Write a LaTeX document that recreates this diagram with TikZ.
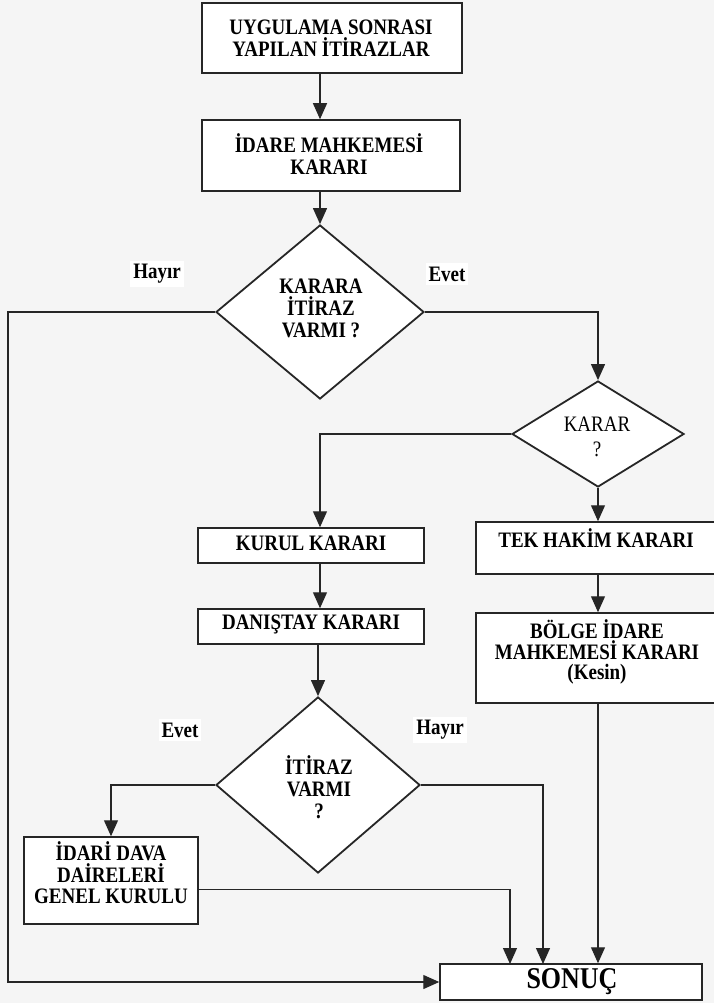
\documentclass[tikz,border=0pt]{standalone}
\usepackage{fontspec}
\setmainfont{Liberation Serif}
\usetikzlibrary{shapes.geometric,arrows.meta,calc}
\begin{document}
\begin{tikzpicture}[x=1pt,y=-1pt,
  box/.style={draw=black!85,line width=1.5pt,fill=white,inner sep=0pt},
  dia/.style={draw=black!85,line width=1.8pt,fill=white,diamond,inner sep=0pt},
  txt/.style={align=center,inner sep=0pt,yscale=1.16,font=\fontsize{19}{19}\selectfont\bfseries},
  lbl/.style={fill=white,inner sep=3pt,yscale=1.16,font=\fontsize{19}{22}\selectfont\bfseries},
  line/.style={draw=black!85,line width=1.2pt},
  arr/.style={line,-{Triangle[length=16pt,width=14pt]}}]
\useasboundingbox[fill=black!4] (0,0) rectangle (714,1003);
% boxes
\node[box,minimum width=260,minimum height=70] (b1) at (332,38) {};
\node[txt] (b1t) at (331,38) {UYGULAMA SONRASI\\YAPILAN İTİRAZLAR};
\node[box,minimum width=258,minimum height=71] (b2) at (331,155.5) {};
\node[txt] (b2t) at (329,154) {İDARE MAHKEMESİ\\KARARI};
\node[dia,minimum width=208,minimum height=174] (d1) at (320,312) {};
\node[txt] (d1t) at (321,308) {KARARA\\İTİRAZ\\VARMI ?};
\node[dia,minimum width=172,minimum height=106] (d2) at (598,434) {};
\node[txt,font=\fontsize{19}{21.5}\selectfont] (d2t) at (597,437) {KARAR\\?};
\node[box,minimum width=226,minimum height=35] (kurul) at (311,545.5) {};
\node[txt] (kurult) at (311,543) {KURUL KARARI};
\node[box,minimum width=226,minimum height=35] (dan) at (311,626.5) {};
\node[txt] (dant) at (311,624) {DANIŞTAY KARARI};
\node[box,minimum width=244,minimum height=52] (tek) at (598,548) {};
\node[txt] (tekt) at (596,538) {TEK HAKİM KARARI};
\node[box,minimum width=244,minimum height=90] (bol) at (598,658) {};
\node[txt,font=\fontsize{19}{17.8}\selectfont\bfseries] (bolt) at (597,652) {BÖLGE İDARE\\MAHKEMESİ KARARI\\(Kesin)};
\node[dia,minimum width=204,minimum height=176] (d3) at (318,785) {};
\node[txt] (d3t) at (319,787) {İTİRAZ\\VARMI\\?};
\node[box,minimum width=174,minimum height=87] (idari) at (111,880.5) {};
\node[txt,font=\fontsize{19}{18.5}\selectfont\bfseries] (idarit) at (111,873) {İDARİ DAVA\\DAİRELERİ\\GENEL KURULU};
\node[box,minimum width=262,minimum height=36] (son) at (571,982) {};
\node[txt,font=\fontsize{26}{28}\selectfont\bfseries] (sont) at (572,982) {SONUÇ};
% labels
\node[lbl] (h1) at (157,274) {Hayır};
\node[lbl] (e1) at (447,274) {Evet};
\node[lbl] (e2) at (180,730) {Evet};
\node[lbl] (h2) at (440,730) {Hayır};
% helper coordinates
\coordinate (L) at (8,312);
\coordinate (s1) at (510,964);
\coordinate (s2) at (543,964);
% connectors
\draw[arr] (b1.south -| d1.north) -- (b2.north -| d1.north);
\draw[arr] (b2.south -| d1.north) -- (d1.north);
\draw[arr] (d1.west) -- (L) |- (son.west);
\draw[arr] (d1.east) -| (d2.north);
\draw[arr] (d2.west) -| (kurul.north -| d1.north);
\draw[arr] (d2.south) -- (tek.north);
\draw[arr] (tek.south) -- (bol.north);
\draw[arr] (bol.south) -- (son.north -| bol.south);
\draw[arr] (kurul.south -| d1.north) -- (dan.north -| d1.north);
\draw[arr] (dan.south -| d3.north) -- (d3.north);
\draw[arr] (d3.west) -| (idari.north);
\draw[arr] (d3.east) -| (s2);
\draw[arr] ([yshift=-9pt]idari.east) -| (s1);
\end{tikzpicture}
\end{document}
